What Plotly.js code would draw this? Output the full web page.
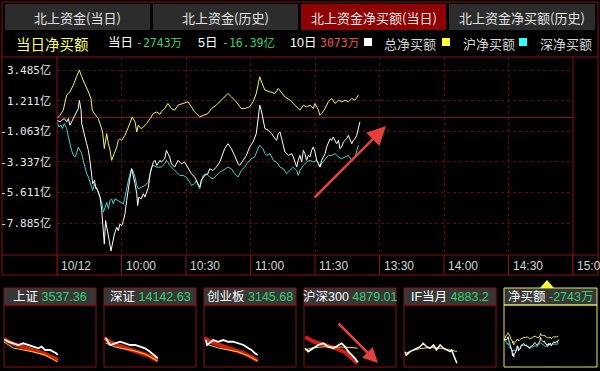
<!DOCTYPE html>
<html><head><meta charset="utf-8">
<script src="https://cdn.plot.ly/plotly-3.0.1.min.js"></script>
<style>html,body{margin:0;padding:0;background:#000;overflow:hidden}#chart{width:600px;height:371px;}</style>
</head><body><div id="chart"></div>
<script>
// ---------- DATA ----------
const tabLabels = ['北上资金(当日)','北上资金(历史)','北上资金净买额(当日)','北上资金净买额(历史)'];
const activeTab = 2;
const summaryTitle = '当日净买额';
const summaryLabels = ['当日','5日','10日'];
const summaryValues = ['-2743万','-16.39亿','3073万'];
const seriesNames = ['总净买额','沪净买额','深净买额'];

// time axis: minutes since 9:30 (lunch break removed)
const timeTicks = [0,30,60,90,120,150,180,210,240];
const timeTickLabels = ['10/12','10:00','10:30','11:00','11:30','13:30','14:00','14:30','15:00'];
const yTickVals = [3.485,1.211,-1.063,-3.337,-5.611,-7.885];
const yTickText = ['3.485亿','1.211亿','-1.063亿','-3.337亿','-5.611亿','-7.885亿'];

// 沪净买额 (yellow), 亿
const shX = [0,1.4,2.9,4.5,6.0,7.6,9.1,10.4,11.5,13.0,14.6,15.8,16.4,17.4,18.4,19.2,20.5,21.2,22.0,23.1,23.9,24.7,25.4,26.2,27.0,27.8,28.5,29.3,30.1,31.6,33.2,35.0,36.3,37.1,37.8,39.1,40.2,41.7,43.3,44.8,46.4,47.9,48.5,50.1,51.6,53.2,54.7,56.3,58.6,60.9,62.5,64.0,66.4,67.9,70.2,71.8,74.1,76.4,78.0,79.5,81.1,83.4,85.7,87.3,89.6,91.2,92.7,94.3,95.7,96.7,99.1,101.4,102.9,104.5,106.0,108.4,109.9,111.5,113.0,114.6,116.1,117.7,119.2,120.0,121.6,122.3,123.1,124.7,126.2,127.8,129.3,130.9,132.4,134.0,135.5,137.1,138.6,140.2];
const shY = [-0.11,0.13,0.51,1.63,1.87,2.37,2.99,3.49,2.99,2.50,1.87,1.38,0.51,0.26,0.01,-0.11,-0.74,-1.11,-2.35,-1.23,-1.98,-2.48,-3.22,-2.85,-2.48,-2.23,-1.73,-1.61,-1.73,-1.36,-0.74,0.01,-0.36,-1.11,-0.61,-0.86,-0.74,-0.48,-0.11,0.26,0.38,0.20,0.38,0.63,1.01,0.63,0.51,0.88,1.01,1.13,0.76,0.38,0.01,0.13,0.26,0.63,0.88,1.25,1.50,1.75,1.50,1.13,0.63,0.63,0.76,1.13,1.75,2.99,2.37,2.00,1.87,1.75,2.12,1.75,1.50,1.25,1.01,0.76,0.51,0.88,0.76,0.88,0.63,1.01,0.51,0.13,0.26,0.63,1.13,1.38,1.01,1.25,1.13,1.25,1.13,1.38,1.25,1.63];

// 总净买额 (white), 亿
const totalX = [0,1.4,2.2,3.4,4.5,5.3,6.0,6.8,7.6,8.4,9.1,9.9,10.4,11.2,11.5,12.2,13.0,13.8,14.6,15.3,16.1,16.6,17.4,18.0,18.9,20.0,20.8,21.6,22.0,22.6,23.6,24.3,25.1,25.7,26.7,27.8,28.5,29.3,30.1,30.9,31.6,32.4,33.2,34.0,34.7,35.5,36.3,37.1,37.5,38.1,39.1,40.2,40.9,41.7,42.5,43.3,44.0,44.8,45.6,46.4,47.9,48.5,50.1,50.9,51.6,52.4,53.2,54.7,56.3,57.8,59.4,60.9,62.5,64.0,64.8,65.6,66.4,67.1,68.7,70.2,71.0,72.6,74.1,75.7,77.2,78.0,79.5,81.1,82.6,84.2,85.0,86.5,88.1,89.6,91.2,92.7,93.5,94.3,95.0,96.0,96.7,98.3,99.8,101.4,102.2,102.9,103.7,104.5,105.3,106.0,107.6,109.1,109.9,110.7,111.5,112.2,113.0,113.8,114.6,115.3,116.1,116.9,117.7,118.4,119.2,120.0,120.8,121.6,122.3,123.1,123.9,124.7,125.4,126.2,127.0,127.8,128.5,129.3,130.1,130.9,131.6,132.4,133.2,134.0,134.7,135.5,136.3,137.1,137.8,138.6,139.4,140.2,140.9];
const totalY = [-0.24,-0.36,-0.24,-0.11,-0.36,-0.11,-0.61,-0.36,-0.11,0.13,0.38,0.63,1.25,0.51,-0.48,-0.86,-1.48,-1.98,-2.48,-3.22,-4.21,-4.96,-4.71,-5.21,-5.46,-5.95,-6.95,-8.94,-9.43,-7.69,-8.44,-9.19,-9.95,-9.43,-8.69,-8.19,-8.44,-7.94,-8.07,-7.69,-7.20,-6.20,-5.21,-4.46,-3.84,-4.34,-4.96,-5.70,-6.58,-5.95,-6.08,-5.70,-5.95,-5.58,-5.21,-4.21,-3.72,-3.35,-3.22,-3.59,-3.22,-3.35,-3.10,-2.48,-2.72,-2.97,-3.47,-3.72,-3.22,-3.47,-3.35,-3.72,-4.21,-4.46,-4.71,-4.96,-5.21,-4.71,-4.34,-4.21,-3.84,-3.97,-3.72,-3.35,-2.72,-2.35,-1.98,-2.35,-2.85,-3.47,-3.59,-3.22,-2.85,-2.23,-1.85,-1.23,0.01,0.88,0.51,-0.36,-0.86,-0.98,-1.23,-1.61,-1.73,-1.23,-1.11,-1.61,-2.23,-2.60,-2.85,-2.72,-2.97,-3.35,-3.72,-3.22,-2.85,-3.35,-2.48,-2.72,-3.22,-2.85,-2.97,-2.48,-2.23,-2.60,-3.22,-3.47,-3.72,-3.22,-2.97,-2.72,-2.23,-1.85,-1.61,-1.73,-1.48,-1.73,-1.98,-1.73,-2.35,-2.23,-1.85,-1.73,-1.61,-1.36,-1.73,-1.98,-1.73,-1.61,-1.36,-0.74,-0.36];

// 深净买额 (cyan), 亿
const szX = [0,0.9,1.9,2.5,3.4,4.5,5.3,6.0,6.8,7.6,8.4,9.1,9.9,10.7,11.5,12.2,13.0,13.8,14.6,15.3,16.1,16.6,17.4,18.0,18.4,19.2,20.0,20.8,21.6,22.3,23.1,23.9,24.7,25.4,26.2,27.0,28.5,30.1,30.9,31.6,32.4,33.2,34.0,34.7,35.5,36.3,37.1,37.8,39.4,40.9,42.5,43.3,44.0,44.8,46.4,47.9,48.5,50.1,50.9,51.6,52.4,54.0,55.5,57.1,58.6,60.2,61.7,62.5,64.0,64.8,65.6,66.4,67.1,67.9,69.5,71.0,72.6,74.1,75.7,77.2,79.5,81.1,82.6,84.2,85.7,87.3,88.8,90.4,91.9,93.5,94.3,95.8,96.7,97.5,99.1,100.6,102.2,103.7,105.3,106.8,108.4,109.9,111.5,112.2,113.0,114.6,116.1,117.7,119.2,120.8,121.6,122.3,123.1,124.7,126.2,127.8,129.3,130.9,132.4,134.0,135.5,137.1,138.6,140.2];
const szY = [-0.36,-0.74,-0.61,-0.86,-0.48,-0.86,-1.48,-1.98,-2.48,-2.85,-2.97,-2.72,-2.23,-2.48,-2.72,-3.22,-3.72,-4.21,-4.46,-4.84,-5.08,-5.46,-4.96,-5.33,-5.21,-5.58,-5.95,-6.33,-7.07,-6.70,-6.33,-6.82,-6.20,-6.08,-6.45,-6.08,-6.20,-6.33,-6.45,-5.95,-5.21,-4.71,-4.21,-3.84,-4.09,-4.46,-5.08,-5.33,-5.21,-5.08,-4.84,-4.34,-3.72,-3.59,-3.72,-3.72,-3.72,-3.47,-3.22,-3.35,-3.59,-3.84,-4.09,-4.34,-4.34,-4.46,-4.84,-5.08,-4.96,-4.71,-5.08,-5.33,-4.84,-4.34,-4.21,-4.46,-4.59,-4.34,-4.09,-3.97,-3.72,-3.84,-4.21,-4.46,-3.97,-3.72,-3.35,-3.10,-2.97,-2.35,-2.10,-2.35,-2.72,-2.85,-2.72,-3.22,-3.35,-3.72,-3.84,-4.21,-3.97,-3.72,-3.97,-4.34,-3.97,-3.59,-3.35,-3.22,-3.35,-3.22,-3.47,-3.72,-3.47,-3.10,-2.85,-2.85,-2.72,-2.97,-3.10,-2.97,-2.85,-3.22,-2.97,-2.10];

// mini panels
const idxNames = ['上证','深证','创业板','沪深300','IF当月','净买额'];
const idxValues = ['3537.36','14142.63','3145.68','4879.01','4883.2','-2743万'];
// 上证
const p1X = [0,11,24,37,50,64,77,90,98,107,120,129,136,140];
const p1Price = [3560.2,3556.7,3554.4,3551.9,3554.4,3551.9,3549.5,3547.2,3549.5,3544.7,3544.7,3542.2,3540.1,3537.4];
const p1BandX = [0,11,24,50,77,107,136,140];
const p1Band = [3560.7,3557.8,3553.4,3549.0,3544.7,3538.9,3531.6,3528.7];
const p1AvgX = [0,24,50,77,107,136,140];
const p1Avg = [3556.3,3547.6,3544.7,3541.8,3537.4,3528.7,3527.3];
// 深证
const p2X = [4,16,29,42,55,68,81,94,107,120,131,140];
const p2Price = [14240.4,14206.5,14214.7,14222.5,14214.7,14206.5,14206.5,14198.3,14190.5,14174.1,14158.1,14142.6];
const p2BandX = [0,16,42,68,94,120,140];
const p2Band = [14240.4,14221,14201.6,14187.1,14172.6,14153.2,14129];
const p2AvgX = [4,29,55,81,107,131,140];
const p2Avg = [14216.2,14196.8,14187.1,14177.4,14162.9,14138.7,14129];
// 创业板
const p3X = [5,8,24,37,50,63,76,90,103,116,124,133,140];
const p3Price = [3155.4,3152.2,3155.4,3154.3,3155.4,3154.3,3154.3,3153.3,3152.2,3150.1,3149.0,3146.8,3145.7];
const p3BandX = [0,24,50,76,103,124,140];
const p3Band = [3156.7,3153.5,3151.5,3149.6,3147.0,3144.5,3141.9];
const p3AvgX = [5,37,63,90,116,133,140];
const p3Avg = [3152.8,3150.3,3149.0,3147.7,3145.1,3143.2,3141.9];
// 沪深300
const p4X = [3,11,24,37,50,64,77,90,98,107,116,125,133,140];
const p4Price = [4888.1,4885.9,4888.1,4890.2,4891.3,4889.1,4888.1,4890.2,4891.3,4889.1,4885.9,4883.7,4881.6,4879.0];
const p4BandX = [3,24,50,77,107,140];
const p4Band = [4895.4,4892.5,4890.5,4888.5,4885.5,4878.5];
const p4AvgX = [3,24,50,77,107,140];
const p4Avg = [4887.0,4888.5,4889.0,4889.0,4888.8,4888.2];
// IF当月
const p5X = [3,6,16,24,33,42,50,59,68,77,85,94,103,111,120,124,131,138];
const p5Price = [4890.7,4888.5,4890.7,4891.8,4892.9,4893.9,4896.1,4893.9,4892.9,4895.0,4891.8,4895.0,4892.9,4891.8,4890.7,4891.8,4887.4,4883.2];
const p5AvgX = [6,20,40,68,100,120,138];
const p5Avg = [4889.8,4891.3,4892.6,4893.4,4892.8,4892.0,4890.8];

// ---------- LAYOUT HELPERS ----------
const W = 600, H = 371;
const px = x => x / W, py = y => 1 - y / H;
const RED = '#8b1111', GRID = '#6b0a0a';
const CJK = 'Noto Sans CJK SC';
const SANS = 'Liberation Sans, Noto Sans CJK SC';
const MONO = 'DejaVu Sans Mono, Noto Sans CJK SC';
const YEL = '#f4f46a', CYAN = '#46d3d3';

const traces = [];
function line(x, y, color, width, xa, ya) {
  traces.push({type:'scatter', mode:'lines', x:x, y:y, xaxis:xa, yaxis:ya,
    line:{color:color, width:width, shape:'linear'}, hoverinfo:'skip', showlegend:false});
}
// main
line(shX, shY, YEL, 1, 'x', 'y');
line(szX, szY, CYAN, 1, 'x', 'y');
line(totalX, totalY, '#ffffff', 1, 'x', 'y');

const shapes = [], annotations = [];
const L = (x0,y0,x1,y1,c,w,dash) => shapes.push({type:'line', xref:'paper', yref:'paper', x0:px(x0), y0:py(y0), x1:px(x1), y1:py(y1), line:{color:c||RED, width:w||1, dash:dash||'solid'}, layer:'above'});
const R = (x0,y0,x1,y1,fill,lc) => shapes.push({type:'rect', xref:'paper', yref:'paper', x0:px(x0), y0:py(y0), x1:px(x1), y1:py(y1), fillcolor:fill||'rgba(0,0,0,0)', line:{color:lc||'rgba(0,0,0,0)', width:lc?1:0}, layer:'below'});
const T = (text, x, y, opts) => annotations.push(Object.assign({text:text, xref:'paper', yref:'paper', x:px(x), y:py(y), showarrow:false, xanchor:'left', yanchor:'middle', font:{family:CJK, size:13, color:'#dddddd'}}, opts||{}));

// tabs
const tabX = [[5,150],[153,298],[301,446],[449,595]];
tabLabels.forEach((t,i) => {
  R(tabX[i][0], 4, tabX[i][1], 30, i === activeTab ? '#8e0202' : '#2c2c2c');
  T(t, (tabX[i][0]+tabX[i][1])/2, 17.5, {xanchor:'center', font:{family:CJK, size:13, color:'#e4e4e4'}});
});

// summary row
T(summaryTitle, 14, 43, {font:{family:CJK, size:14.5, color:'#ffff66'}});
const sumLX = [106, 196, 288], sumVX = [134, 220, 318];
const sumColors = ['#3fd35f', '#3fd35f', '#f05858'];
summaryLabels.forEach((t,i) => {
  T(t, sumLX[i], 43, {font:{family:SANS, size:12.5, color:'#ffffff'}});
  T(summaryValues[i], sumVX[i], 43, {font:{family:MONO, size:11.5, color:sumColors[i]}});
});
const legSq = [364, 442, 519], legTx = [382, 461, 538];
const legCol = ['#ffffff', '#ffff33', '#33ffff'];
seriesNames.forEach((t,i) => {
  R(legSq[i], 38, legSq[i]+8, 46, legCol[i]);
  T(t, legTx[i], 43, {font:{family:CJK, size:13, color:'#d8d8d8'}});
});

// frame
R(2, 2, 598, 275, null, RED);
L(2, 57, 598, 57);
L(2, 255, 598, 255);
L(57, 57, 57, 275);
L(573, 57, 573, 275);
// x label cells
timeTicks.forEach((t,i) => {
  shapes.push({type:'line', xref:'x', yref:'paper', x0:t, x1:t, y0:py(255), y1:py(275), line:{color:RED, width:1}});
  annotations.push({text:timeTickLabels[i], xref:'x', yref:'paper', x:t, y:py(265.5), xshift:2, showarrow:false, xanchor:'left', yanchor:'middle', font:{family:SANS, size:12, color:'#d6d6d6'}});
});

// red arrow on main chart
annotations.push({xref:'paper', yref:'paper', x:px(386), y:py(126), ax:-73, ay:73, axref:'pixel', ayref:'pixel', text:'', showarrow:true, arrowhead:2, arrowsize:1.5, arrowwidth:2.5, arrowcolor:'#e5413c'});

// mini panels
const pL = [4,104,204,304,404,504], pR = [96,196,296,396,496,597];
const layoutAxes = {};
const panelRanges = [[3520,3610],[14100,14400],[3138,3178],[4876,4916],[4880.8,4920.8],[-15.6,18.9]];
for (let i = 0; i < 6; i++) {
  const n = i + 2;
  layoutAxes['xaxis'+n] = {domain:[px(pL[i]), px(pR[i])], range:[0,240], visible:false, anchor:'y'+n, fixedrange:true};
  layoutAxes['yaxis'+n] = {domain:[py(367), py(305)], range:panelRanges[i], visible:false, anchor:'x'+n, fixedrange:true};
  const border = i === 5 ? '#e6e65a' : RED;
  R(pL[i], 288, pR[i], 305, '#373737', border);
  R(pL[i], 305, pR[i], 367, null, border);
  T('<span style="color:#ffffff">'+idxNames[i]+'</span> <span style="color:#36d06a">'+idxValues[i]+'</span>',
    (pL[i]+pR[i])/2, 296.5, {xanchor:'center', font:{family:SANS, size:12.5, color:'#ffffff'}});
}
const bandCol = '#d81c10';
line(p1BandX, p1Band, bandCol, 4, 'x2', 'y2'); line(p1AvgX, p1Avg, '#ffdd22', 1, 'x2', 'y2'); line(p1X, p1Price, '#ffffff', 1.8, 'x2', 'y2');
line(p2BandX, p2Band, bandCol, 4, 'x3', 'y3'); line(p2AvgX, p2Avg, '#ffdd22', 1, 'x3', 'y3'); line(p2X, p2Price, '#ffffff', 1.8, 'x3', 'y3');
line(p3BandX, p3Band, bandCol, 4, 'x4', 'y4'); line(p3AvgX, p3Avg, '#ffdd22', 1, 'x4', 'y4'); line(p3X, p3Price, '#ffffff', 1.8, 'x4', 'y4');
line(p4BandX, p4Band, bandCol, 4, 'x5', 'y5'); line(p4AvgX, p4Avg, '#ffdd22', 1, 'x5', 'y5'); line(p4X, p4Price, '#ffffff', 1.8, 'x5', 'y5');
line(p5AvgX, p5Avg, '#ffdd22', 1, 'x6', 'y6'); line(p5X, p5Price, '#ffffff', 1.5, 'x6', 'y6');
line(shX, shY, YEL, 1, 'x7', 'y7'); line(szX, szY, CYAN, 1, 'x7', 'y7'); line(totalX, totalY, '#ffffff', 1, 'x7', 'y7');

// arrow on 沪深300 panel
annotations.push({xref:'paper', yref:'paper', x:px(378), y:py(363), ax:-41, ay:-41, text:'', showarrow:true, arrowhead:2, arrowsize:1.2, arrowwidth:2.5, arrowcolor:'#e5413c'});
// yellow pointer above active mini panel
shapes.push({type:'path', xref:'paper', yref:'paper', path:'M '+px(540)+' '+py(288)+' L '+px(554)+' '+py(288)+' L '+px(547)+' '+py(280)+' Z', fillcolor:'#ffff33', line:{width:0}});

const layout = Object.assign({
  width:W, height:H, margin:{l:0,r:0,t:0,b:0},
  paper_bgcolor:'#000000', plot_bgcolor:'#000000', showlegend:false,
  xaxis:{domain:[px(57), px(573)], range:[0,240], tickvals:timeTicks, showticklabels:false, ticks:'',
    showgrid:true, gridcolor:GRID, griddash:'dot', gridwidth:1, zeroline:false, showline:false, fixedrange:true},
  yaxis:{domain:[py(255), py(57)], range:[-10.25,4.46], tickvals:yTickVals, ticktext:yTickText, ticks:'',
    tickfont:{family:MONO, size:11, color:'#e8e8e8'}, ticklabelstandoff:5,
    showgrid:true, gridcolor:GRID, griddash:'dot', gridwidth:1,
    zeroline:true, zerolinecolor:RED, zerolinewidth:1, showline:false, fixedrange:true},
  shapes:shapes, annotations:annotations
}, layoutAxes);

Plotly.newPlot('chart', traces, layout, {staticPlot:true, displayModeBar:false});
</script></body></html>
